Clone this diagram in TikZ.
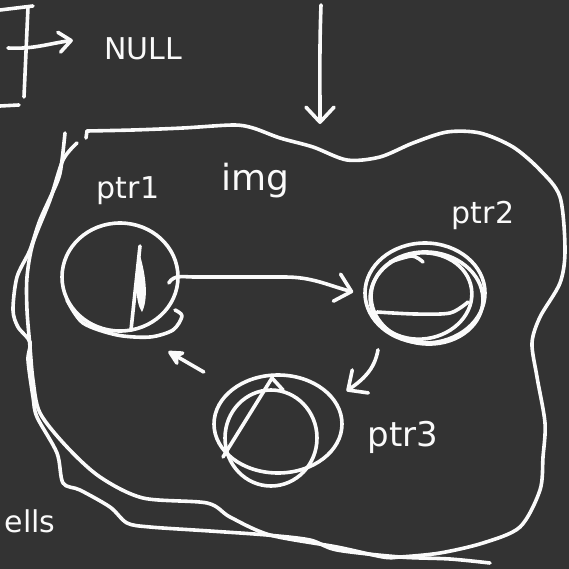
\documentclass[tikz,border=0pt]{standalone}
\usepackage{fontspec}
\setmainfont{DejaVu Sans}
\usetikzlibrary{positioning,arrows.meta,shapes.geometric}
\definecolor{Board}{HTML}{333333}
\definecolor{Chalk}{HTML}{FAFAFA}

\begin{document}
\begin{tikzpicture}[
        x=1pt, y=-1pt,
        chalk/.style={draw=Chalk, line width=3.6pt, line cap=round, line join=round},
        cell/.style={chalk, ellipse, inner sep=0pt},
        tag/.style={text=Chalk, inner sep=0pt, anchor=base, font=\fontsize{30}{32}\selectfont},
        edge/.style={chalk, -{Straight Barb[round, length=15pt, width=28pt]}},
        backedge/.style={chalk, -{Stealth[round, length=20pt, width=20pt]}}
    ]
        \fill[Board] (0,0) rectangle (569,569);
        \useasboundingbox (0,0) rectangle (569,569);

        % the three cells
        \node [cell, minimum width=116pt, minimum height=108pt] (ptr1) at (120,277) {};
        \node [cell, minimum width=120pt, minimum height=100pt] (ptr2) at (425,293) {};
        \node [cell, minimum width=128pt, minimum height=98pt] (ptr3) at (278,424) {};

        % labels
        \node [tag] (nulltag) at (143,60) {NULL};
        \node [tag] (ptr1tag) at (128,198) {ptr1};
        \node [tag, font=\fontsize{36}{38}\selectfont] (imgtag) at (255,190) {img};
        \node [tag] (ptr2tag) at (483,223) {ptr2};
        \node [tag, font=\fontsize{34}{36}\selectfont] (ptr3tag) at (403,446) {ptr3};
        \node [tag] (cellstag) at (30,532) {ells};

        % sketchy strokes on the cells
        \draw [chalk] plot [smooth] coordinates {(175,310) (182,316) (173,330) (150,337) (117,335) (83,323) (67,300)};
        \draw [chalk] (140,246) -- (131,330);
        \fill [Chalk] (139,252) .. controls (147,278) and (148,300) .. (142,312) .. controls (135,302) and (135,278) .. (139,252);
        \draw [chalk, rotate around={8:(421,296)}] (421,296) ellipse [x radius=51pt, y radius=43pt];
        \draw [chalk, rotate around={-5:(427,298)}] (427,298) ellipse [x radius=56pt, y radius=46pt];
        \draw [chalk] plot [smooth] coordinates {(377,312) (415,314) (450,313) (468,302)};
        \draw [chalk] plot [smooth] coordinates {(390,262) (412,256) (423,262)};
        \draw [chalk] (271,438) ellipse [x radius=46pt, y radius=48pt];
        \draw [chalk] (223,457) -- (272,378) -- (283,390);

        % blob round the cells
        \draw [chalk] (86,138) -- (87,131);
        \draw [chalk] plot [smooth] coordinates {(87,131) (133,130) (183,128) (233,125) (253,128) (280,138) (313,147) (347,160) (380,157) (413,143) (447,132) (480,133) (513,147) (540,170) (560,197) (565,250) (560,283) (540,317) (532,343) (537,377) (545,423) (543,457) (540,490) (520,527) (483,543) (440,553) (400,557) (383,557) (337,547) (270,535) (230,517) (207,503) (143,498) (100,477) (67,447) (40,413) (33,380) (30,347) (27,310) (27,277) (33,243) (50,200) (63,160) (77,143)};
        \draw [chalk] plot [smooth] coordinates {(65,133) (62,160) (58,180) (40,220) (30,250) (17,277) (13,310) (18,327) (30,342) (28,360) (33,397) (37,417) (57,453) (63,483) (80,490) (110,507) (127,523) (150,527) (210,531) (267,535) (310,540) (337,550) (400,557) (450,559) (490,563)};

        % bracket on the left
        \draw [chalk] (0,10) -- (33,6);
        \draw [chalk] (28,7) -- (24,97);
        \draw [chalk] (0,106) -- (19,105);
        \coordinate (brk) at (8,48);
        \draw [chalk, -{Straight Barb[round, length=12pt, width=20pt]}] (brk) to[out=-3, in=188] ([xshift=-31pt, yshift=9pt]nulltag.west);

        % arrow into the blob
        \coordinate (entry) at (321,5);
        \coordinate (blobtop) at (320,124);
        \draw [edge] (entry) to[out=-92, in=90] (blobtop);

        % links between the cells
        \draw [edge] ([xshift=-11pt, yshift=-6pt]ptr1.east) to[out=60, in=180] ([xshift=14pt]ptr1.east) -- ([xshift=105pt]ptr1.east) to[out=0, in=165] ([xshift=-10pt, yshift=1pt]ptr2.west);
        \draw [edge] ([xshift=-47pt, yshift=-5pt]ptr2.south) to[out=-100, in=35] ([xshift=22pt, yshift=-3pt]ptr3.north east);
        \draw [backedge, shorten <=32pt] (ptr3.north west) -- ([xshift=6pt, yshift=-35pt]ptr1.south east);
    \end{tikzpicture}
\end{document}
